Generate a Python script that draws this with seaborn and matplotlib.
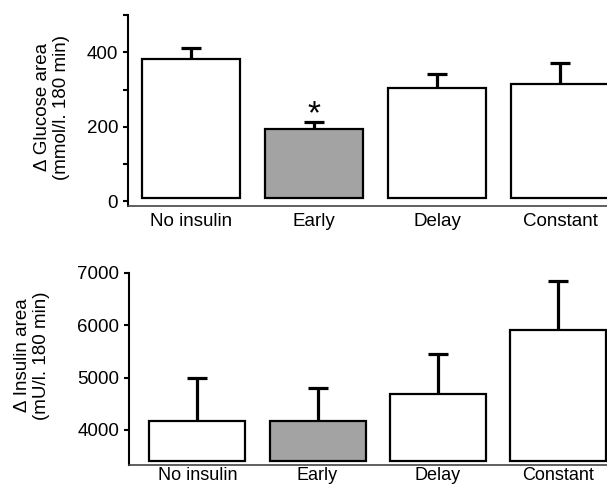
import numpy as np
import seaborn as sns
import matplotlib.pyplot as plt

groups = ['No insulin', 'Early', 'Delay', 'Constant']
glucose = [381, 193, 303, 314]
glucose_err = [30, 19, 38, 56]
insulin = [4180, 4170, 4690, 5910]
insulin_err = [810, 630, 760, 940]
colors = ['white', '#a3a3a3', 'white', 'white']

sns.set_style("ticks")
plt.rcParams['font.family'] = ['Liberation Sans', 'DejaVu Sans']
plt.rcParams['text.color'] = 'black'
plt.rcParams['axes.labelcolor'] = 'black'

fig = plt.figure(figsize=(6.07, 4.88), dpi=100)
ax1 = fig.add_axes([0.211, 0.578, 0.789, 0.391])
ax2 = fig.add_axes([0.2125, 0.048, 0.7875, 0.393])


def panel(ax, vals, errs, base):
    sns.barplot(x=groups, y=vals, hue=groups, palette=colors, edgecolor='black',
                linewidth=1.6, width=0.8, legend=False, ax=ax)
    # bars in the original start a little above the x axis line
    for p in ax.patches:
        p.set_height(p.get_height() - base)
        p.set_y(base)
    _, caps, _ = ax.errorbar(range(len(groups)), vals, yerr=[np.zeros(len(vals)), errs],
                             fmt='none', ecolor='black', elinewidth=2.3, capsize=7.5,
                             capthick=2.3, zorder=1)
    caps[0].set_visible(False)
    sns.despine(ax=ax)
    ax.spines['left'].set_linewidth(1.5)
    ax.spines['left'].set_color('black')
    ax.spines['bottom'].set_linewidth(1.2)
    ax.spines['bottom'].set_color('#444444')
    ax.tick_params(axis='y', width=1.5, length=3.6, labelsize=13.5, colors='black')
    ax.tick_params(axis='x', length=0, labelsize=13.5, pad=5, colors='black')
    ax.set_xlabel('')


panel(ax1, glucose, glucose_err, 8)
ax1.set_ylim(-13, 500)
ax1.set_xlim(-0.51, 3.38)
ax1.set_yticks(range(0, 501, 100), ['0', '', '200', '', '400', ''])
ax1.text(1, 208, '*', ha='center', va='baseline', fontsize=24)
ax1.set_ylabel('Δ Glucose area\n(mmol/l. 180 min)', fontsize=13.5)
ax1.yaxis.set_label_coords(-0.121, 0.518)

panel(ax2, insulin, insulin_err, 3410)
ax2.set_ylim(3340, 7000)
ax2.set_xlim(-0.57, 3.41)
ax2.set_yticks([4000, 5000, 6000, 7000])
ax2.tick_params(axis='x', pad=2, labelsize=13)
ax2.set_ylabel('Δ Insulin area\n(mU/l. 180 min)', fontsize=13.5)
ax2.yaxis.set_label_coords(-0.165, 0.57)

fig.savefig('out.png', dpi=100)
